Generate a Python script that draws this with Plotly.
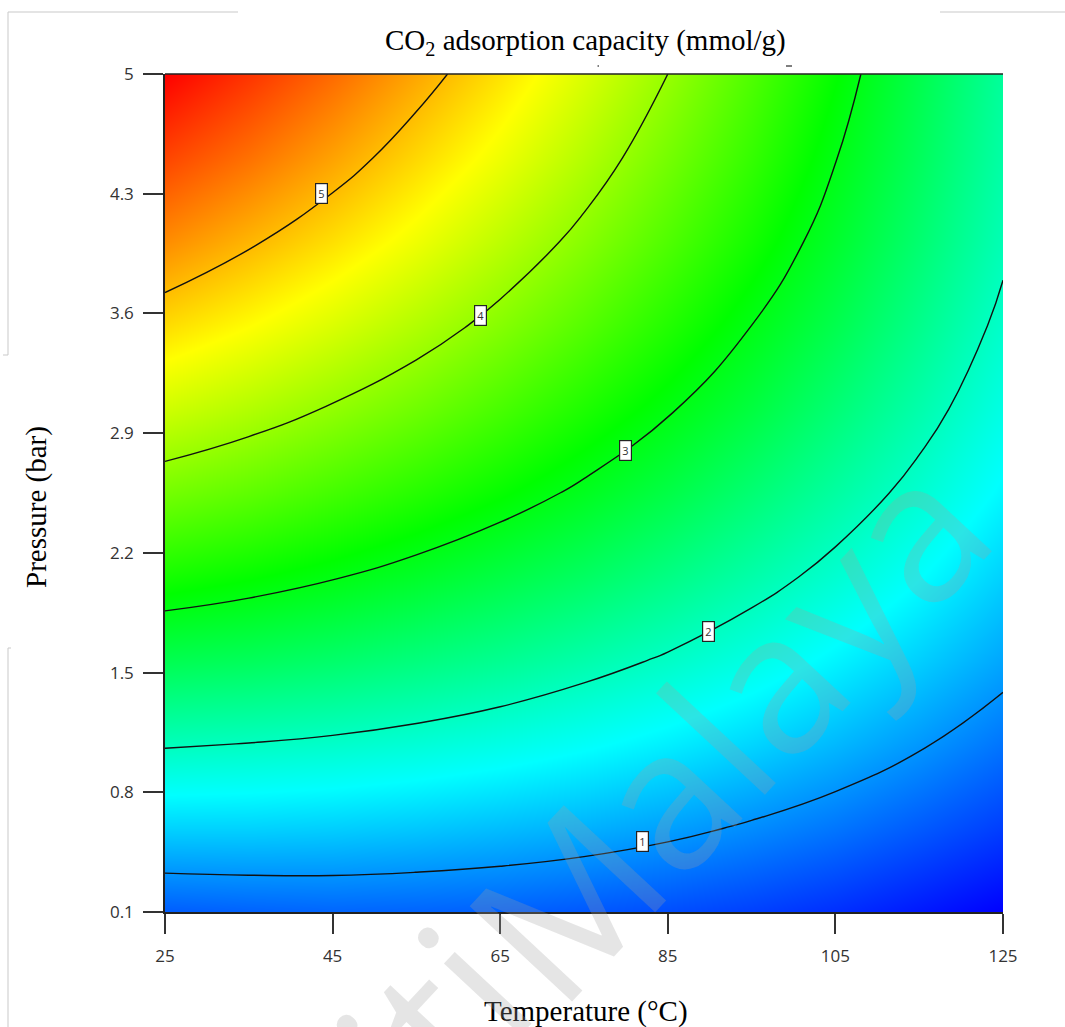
import plotly.graph_objects as go

# Response surface: CO2 adsorption capacity vs temperature and pressure
temperature = [25, 35, 45, 55, 65, 75, 85, 95, 105, 115, 125]          # °C
pressure = [0.10, 0.59, 1.08, 1.57, 2.06, 2.55, 3.04, 3.53, 4.02, 4.51, 5.00]  # bar

# capacity in mmol/g: one row per pressure, one column per temperature
capacity = [
    [0.68, 0.71, 0.73, 0.72, 0.70, 0.65, 0.59, 0.51, 0.41, 0.28, 0.14],
    [1.37, 1.37, 1.35, 1.31, 1.25, 1.18, 1.08, 0.96, 0.83, 0.67, 0.50],
    [2.03, 1.99, 1.94, 1.87, 1.78, 1.67, 1.54, 1.39, 1.22, 1.03, 0.82],
    [2.65, 2.59, 2.50, 2.39, 2.27, 2.12, 1.96, 1.78, 1.57, 1.35, 1.11],
    [3.24, 3.14, 3.02, 2.88, 2.72, 2.55, 2.35, 2.13, 1.90, 1.64, 1.36],
    [3.80, 3.67, 3.51, 3.34, 3.15, 2.94, 2.71, 2.45, 2.18, 1.90, 1.59],
    [4.33, 4.16, 3.97, 3.77, 3.54, 3.29, 3.03, 2.75, 2.44, 2.12, 1.78],
    [4.82, 4.62, 4.40, 4.16, 3.90, 3.62, 3.32, 3.00, 2.67, 2.31, 1.93],
    [5.28, 5.04, 4.79, 4.52, 4.22, 3.91, 3.58, 3.23, 2.86, 2.47, 2.06],
    [5.70, 5.44, 5.15, 4.84, 4.52, 4.17, 3.80, 3.42, 3.01, 2.59, 2.15],
    [6.10, 5.80, 5.48, 5.13, 4.78, 4.40, 4.00, 3.58, 3.14, 2.68, 2.21],
]

# contour levels and where their value tags sit
levels = [1, 2, 3, 4, 5]
label_T = [82.0, 89.9, 79.9, 62.6, 43.7]
label_P = [0.51, 1.74, 2.80, 3.59, 4.30]

x_ticks = [25, 45, 65, 85, 105, 125]
y_ticks = [0.1, 0.8, 1.5, 2.2, 2.9, 3.6, 4.3, 5.0]
y_ticktext = ["0.1", "0.8", "1.5", "2.2", "2.9", "3.6", "4.3", "5"]

rainbow = [
    [0.00, "rgb(0,0,255)"],
    [0.25, "rgb(0,255,255)"],
    [0.50, "rgb(0,255,0)"],
    [0.75, "rgb(255,255,0)"],
    [1.00, "rgb(255,0,0)"],
]

W, H = 1065, 1027
L, R, T, B = 165, 62, 74, 115
PW, PH = W - L - R, H - T - B


def px(xp):
    return (xp - L) / PW


def py(yp):
    return (H - B - yp) / PH


fig = go.Figure()

fig.add_trace(go.Heatmap(
    x=temperature, y=pressure, z=capacity,
    colorscale=rainbow, zsmooth="best", showscale=False, hoverinfo="skip",
))

fig.add_trace(go.Contour(
    x=temperature, y=pressure, z=capacity,
    autocontour=False,
    contours=dict(start=levels[0], end=levels[-1], size=1, coloring="none"),
    line=dict(color="#111111", width=1.4, smoothing=1.3),
    showscale=False, hoverinfo="skip",
))

serif = "Times New Roman, Liberation Serif, serif"
sans = "Open Sans, Noto Sans, sans-serif"

annotations = []
for lv, lt, lp in zip(levels, label_T, label_P):
    annotations.append(dict(
        x=lt, y=lp, xref="x", yref="y", text=str(lv), showarrow=False,
        font=dict(family=sans, size=11, color="#333333"),
        bgcolor="white", bordercolor="#222222", borderwidth=1.2, borderpad=2,
    ))

# titles
annotations.append(dict(
    x=px(585), y=py(42), xref="paper", yref="paper", showarrow=False,
    text="CO<sub>2</sub> adsorption capacity (mmol/g)",
    font=dict(family=serif, size=29, color="black"),
    xanchor="center", yanchor="middle",
))
annotations.append(dict(
    x=px(586), y=py(1011), xref="paper", yref="paper", showarrow=False,
    text="Temperature (°C)",
    font=dict(family=serif, size=29, color="black"),
    xanchor="center", yanchor="middle",
))
annotations.append(dict(
    x=px(36), y=py(507), xref="paper", yref="paper", showarrow=False,
    text="Pressure (bar)", textangle=-90,
    font=dict(family=serif, size=29, color="black"),
    xanchor="center", yanchor="middle",
))

# faint diagonal watermark, one word at a time
wm_font = dict(family=sans, size=196, color="rgba(160,160,160,0.27)")
for word, cx, cy in [("Universiti", 193, 1275), ("Malaya", 725, 726)]:
    annotations.append(dict(
        x=px(cx), y=py(cy), xref="paper", yref="paper", showarrow=False,
        text=word, textangle=-47, font=wm_font,
        xanchor="center", yanchor="middle",
    ))

shapes = []
# top frame edge of the plot
shapes.append(dict(type="line", xref="paper", yref="paper",
                   x0=0, x1=1, y0=1, y1=1,
                   line=dict(color="#222222", width=1.5)))
# page rule lines
page_gray = "#c9c9c9"
for (x0, y0, x1, y1) in [(8, 12, 238, 12), (940, 12, 1065, 12),
                         (8, 12, 8, 355), (3, 355, 8, 355),
                         (8, 648, 8, 1027), (8, 648, 11, 648)]:
    shapes.append(dict(type="line", xref="paper", yref="paper",
                       x0=px(x0), x1=px(x1), y0=py(y0), y1=py(y1),
                       line=dict(color=page_gray, width=1)))
# small specks below the title
for (x0, y0, x1, y1) in [(597.5, 66, 599, 66), (786, 66, 792, 66)]:
    shapes.append(dict(type="line", xref="paper", yref="paper",
                       x0=px(x0), x1=px(x1), y0=py(y0), y1=py(y1),
                       line=dict(color="#555555", width=1.5)))

axis_common = dict(
    showgrid=False, zeroline=False,
    showline=True, linecolor="#222222", linewidth=1.5,
    ticks="outside", ticklen=20, tickwidth=1.5, tickcolor="#333333",
    tickfont=dict(family=sans, size=17, color="#333333"),
)

fig.update_layout(
    width=W, height=H, autosize=False,
    margin=dict(l=L, r=R, t=T, b=B),
    paper_bgcolor="white", plot_bgcolor="white",
    showlegend=False,
    xaxis=dict(range=[25, 125], tickvals=x_ticks, ticklabelstandoff=8, **axis_common),
    yaxis=dict(range=[0.1, 5.0], tickvals=y_ticks, ticktext=y_ticktext,
               ticklabelstandoff=6, **axis_common),
    annotations=annotations,
    shapes=shapes,
)

fig.write_html("out.html")
